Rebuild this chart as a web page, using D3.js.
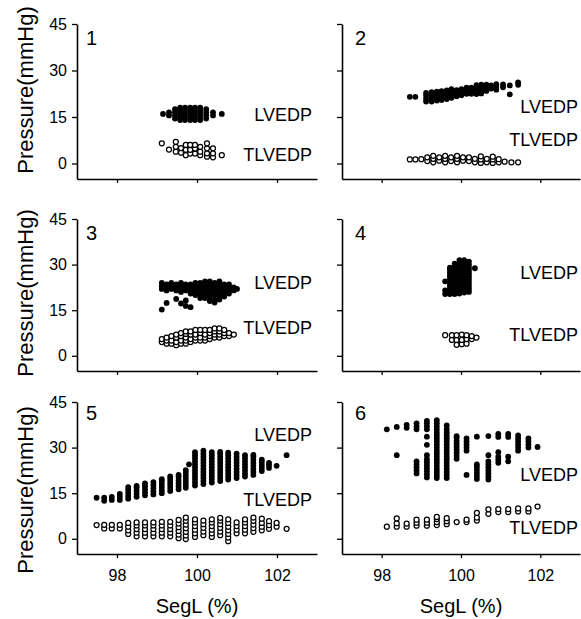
<!DOCTYPE html>
<html><head><meta charset="utf-8">
<script src="https://cdn.jsdelivr.net/npm/d3@7"></script>
<style>body{margin:0;background:#fff}svg{display:block}</style>
</head><body><svg id="c" width="581" height="619"></svg>
<script>
// ---------- data ----------
const xTicks = [98, 100, 102];
const yTicks = [0, 15, 30, 45];
const panelNames = ["1", "2", "3", "4", "5", "6"];
const seriesNames = ["LVEDP", "TLVEDP"];
const xTitle = "SegL (%)";
const yTitle = "Pressure(mmHg)";

// each entry: [SegL %, [pressures at that SegL]]
const lv1 = [[99.15,[16]],[99.3,[15.5,16.5]],[99.45,[14.5,15.5,16.5,17.5]],[99.58,[14,15,16,17,18]],[99.7,[14,15,16,17,18]],[99.83,[14,15,16,17,18]],[99.95,[14,15,16,17,18]],[100.08,[14,15,16,17,18]],[100.23,[14.5,15.5,16.5,17.5]],[100.4,[15.5,16.5]],[100.62,[16]]];
const tl1 = [[99.12,[6.5]],[99.3,[4.5]],[99.47,[3.8,5.4,7]],[99.6,[3.5,5]],[99.72,[2.7,4.4,6]],[99.83,[3.2,4.4,6]],[99.95,[3.2,4.8,6]],[100.08,[2.7,3.8,5.4]],[100.25,[2.2,3.3,4.9,6.5]],[100.4,[2,3.3,4.9]],[100.62,[2.7]]];

const lv2 = [[98.71,[21.5]],[98.85,[21.5]],[99.12,[20,21,22,22.8]],[99.26,[20,21,22,23]],[99.39,[20.3,21.3,22.3,23.2]],[99.51,[20.5,21.5,22.5,23.3]],[99.64,[20.8,21.8,22.8,23.6]],[99.76,[21.2,22.2,23.2,24]],[99.89,[21.7,22.7,23.7]],[100.01,[22,23,24]],[100.14,[22.5,23.5,24.5]],[100.26,[22.5,23.5,24.5]],[100.39,[22.4,23.4,24.4,25.3]],[100.51,[22.6,23.6,24.6,25.4]],[100.64,[23.4,24.4,25.4]],[100.76,[24.2,25.2]],[100.89,[23.8,24.8,25.6]],[101.06,[24.6,25.5]],[101.23,[22.3,25.2]],[101.44,[25.4,26.2]]];
const tl2 = [[98.71,[1.3]],[98.85,[1.3]],[99.0,[1.4]],[99.15,[0.8,2]],[99.3,[0.4,1.5,2.5]],[99.45,[0.9,2]],[99.6,[0.4,1.5,2.5]],[99.75,[0.8,2]],[99.9,[0.4,1.5,2.5]],[100.05,[0.9,2]],[100.2,[0.8,2]],[100.35,[0.4,1.5]],[100.5,[0.2,1.3,2.3]],[100.65,[0.4,1.5]],[100.8,[0.2,1.3,2.2]],[100.95,[0.4,1.4]],[101.1,[0.6]],[101.27,[0.4]],[101.44,[0.4]]];

const lv3 = [[99.12,[15.2,22,23,24]],[99.24,[17.4,21.5,22.5,23.5]],[99.36,[22,23,24]],[99.48,[18.7,21.5,22.5,23.5]],[99.6,[17.2,21,22,23,24]],[99.72,[16.4,18.2,21.5,22.5,23.5]],[99.84,[16,20.5,21.5,22.5,23.5]],[99.96,[20,21,22,23,24]],[100.08,[19,20,21,22,23,24]],[100.2,[19,20,21,22,23,24.5]],[100.32,[18,19.5,20.5,21.5,22.5,23.5,24.5]],[100.44,[17.5,18.5,20,21,22,23,24]],[100.56,[18.5,19.5,20.5,21.5,22.5,23.5,24.5]],[100.68,[19.5,20.5,21.5,22.5,23.5]],[100.8,[20.5,21.5,22.5,23.5]],[100.92,[21.5,22.5]],[101.0,[22]]];
const tl3 = [[99.12,[4.5,5.5]],[99.24,[4,5,6]],[99.36,[4,5,6.5]],[99.48,[3.5,4.5,6,7]],[99.6,[4,5,6.5,7.5]],[99.72,[4,5,6,7.2,8]],[99.84,[4.5,5.5,7,8]],[99.96,[5,6,7,8.5]],[100.08,[5,6,7.5,8.5]],[100.2,[5,6,7,8.5]],[100.32,[5.5,6.5,7.5,8.5]],[100.44,[6,7,8,9]],[100.56,[6,7,8,9]],[100.68,[6.5,7.5,8.5]],[100.8,[6.5,7.5]],[100.92,[7]]];

const lv4 = [[99.6,[20.3,21.5,24.5]],[99.72,[20.3,21.3,22.3,23.3,24.3,25.3,26.3,27.3,28.3,29]],[99.84,[20.3,21.3,22.3,23.3,24.3,25.3,26.3,27.3,28.3,29.3,30.3]],[99.96,[20.5,21.5,22.5,23.5,24.5,25.5,26.5,27.5,28.5,29.5,30.5,31.5]],[100.08,[20.8,21.8,22.8,23.8,24.8,25.8,26.8,27.8,28.8,29.8,30.8,31.5]],[100.2,[21,22,23,24,25,26,27,28,29,30,31]],[100.35,[28.8]]];
const tl4 = [[99.6,[6.8]],[99.77,[5.2,6.8]],[99.89,[3.6,5.2,6.8]],[100.02,[3.8,5.2,7]],[100.14,[4,5.5,6.8]],[100.27,[5.5,6.5]],[100.39,[6]]];

const lv5 = [[97.49,[13.5]],[97.68,[12.5,13.5]],[97.87,[12.8,13.8]],[98.07,[12.8,13.8,14.8]],[98.28,[13.2,14.2,15.2,16.2,17]],[98.49,[13.8,14.8,15.8,16.8,17.4]],[98.7,[14.3,15.3,16.3,17.3,18.2]],[98.91,[14.6,15.6,16.6,17.6,18.6]],[99.12,[15,16,17,18,19,19.6]],[99.33,[15.7,16.7,17.7,18.7,19.7,20.5]],[99.54,[16.3,17.3,18.3,19.3,20.3,21]],[99.72,[16.8,17.8,18.8,19.8,20.8,21.8,22.6]],[99.8,[24.5]],[99.95,[17.5,18.5,19.5,20.5,21.5,22.5,23.5,24.5,25.5,26.5,27.5,28.5]],[100.16,[18,19,20,21,22,23,24,25,26,27,28,29]],[100.37,[18.5,19.5,20.5,21.5,22.5,23.5,24.5,25.5,26.5,27.5,28.5]],[100.58,[19,20,21,22,23,24,25,26,27,28,28.6]],[100.78,[19.5,20.5,21.5,22.5,23.5,24.5,25.5,26.5,27.5,28.3]],[100.99,[20,21,22,23,24,25,26,27,28]],[101.2,[20.5,21.5,22.5,23.5,24.5,25.5,26.5,27.5]],[101.41,[21,22,23,24,25,26,27,27.6]],[101.62,[22.3,23.3,24.3,25.3,26]],[101.8,[23.3,24.3,25]],[101.99,[24]],[102.24,[27.5]]];
const tl5 = [[97.49,[4.5]],[97.68,[3.4,4.6]],[97.87,[3.4,4.6]],[98.07,[3.4,4.6]],[98.28,[1.6,2.8,4,5.2]],[98.49,[0.8,2,3.2,4.4,5.4]],[98.7,[0.8,2,3.2,4.4,5.4]],[98.91,[0.8,2,3.2,4.4,5.4]],[99.12,[0.8,2,3.2,4.4,5.6]],[99.33,[0.8,2,3.2,4.4,5.6]],[99.54,[0.2,1.4,2.6,3.8,5,6.2]],[99.72,[-0.1,1.1,2.3,3.5,4.7,5.9,7]],[99.95,[0.6,1.8,3,4.2,5.4,6.4]],[100.16,[1.2,2.4,3.6,4.8,6]],[100.37,[0.6,1.8,3,4.2,5.4,6.4]],[100.58,[1.2,2.4,3.6,4.8,6,6.9]],[100.78,[-0.8,0.4,1.6,2.8,4,5.2,6.4]],[100.99,[1.8,3,4.2,5.4]],[101.2,[1.8,3,4.2,5.4,6.4]],[101.41,[2.3,3.5,4.7,5.9,7]],[101.62,[2.8,4,5.2,6.6]],[101.8,[3.3,4.5,5.8]],[101.99,[4,5.2]],[102.24,[3.3]]];

const lv6 = [[98.13,[36]],[98.38,[27.5,36.8]],[98.63,[36.5,37.5]],[98.88,[21.5,22.5,23.5,24.5,25.5,36,37,38]],[99.14,[20.2,21.2,22.2,23.2,24.2,25.2,26.2,27.5,30.9,33.6,36,37,38,38.8]],[99.39,[20,21,22,23,24,25,26,27,28,29,30,31,32,33,34,35,36,37,38,39]],[99.64,[20,21,22,23,24,25,26,27,28,29,30,31,32,33,34,35,36,37.3]],[99.89,[26.3,27.3,28.3,29.3,30.3,31.3,32.3,33.3,33.8]],[100.14,[21,29,30,31,32,33]],[100.4,[19.7,20.7,21.7,22.7,23.7,24.5,33.6]],[100.69,[19.5,20.5,21.5,22.5,23.5,24.5,25.5,27.5,33.8]],[100.94,[25,26,27,28.5,33.5,34.5]],[101.19,[25.5,27,33.5,34.5]],[101.44,[29,30,31,32,33,34]],[101.7,[30,31,32,33]],[101.93,[30.2]]];
const tl6 = [[98.13,[4]],[98.38,[4,5.1,6.7]],[98.63,[4,5]],[98.88,[4.3,5.3,6.3]],[99.14,[4.3,5.3,6.3]],[99.39,[4.5,5.5,6.5,7.2]],[99.64,[4.8,5.8,6.8]],[99.89,[5.5]],[100.14,[5.5,6.3]],[100.4,[6,7,8.5]],[100.69,[8.2,9.7]],[100.94,[8.8,9.8]],[101.19,[8.8,9.8]],[101.44,[9,10]],[101.7,[9,10]],[101.93,[10.6]]];

const lvSets = [lv1, lv2, lv3, lv4, lv5, lv6];
const tlSets = [tl1, tl2, tl3, tl4, tl5, tl6];

// ---------- layout ----------
const FONT = "'Liberation Sans', Arial, Helvetica, sans-serif";
const colX0 = [77, 342], colX1 = [317, 580];
const rowY0 = [24, 219, 402], rowY1 = [179, 371, 554];
const lvLabelY = [115, 107, 283, 273, 435, 475];
const tlLabelY = [155, 140, 328, 335, 500, 528];
const labelRight = [312, 578];
const yTitleCenter = [90, 293, 490];

const svg = d3.select("#c");
svg.append("rect").attr("width", 581).attr("height", 619).attr("fill", "#fff");

function flatten(cols) {
  const pts = [];
  cols.forEach(([xv, ys]) => ys.forEach(yv => pts.push([xv, yv])));
  return pts;
}

for (let i = 0; i < 6; i++) {
  const col = i % 2, row = Math.floor(i / 2);
  const x = d3.scaleLinear().domain([97, 103]).range([colX0[col], colX1[col]]);
  const y = d3.scaleLinear().domain([-5, 45]).range([rowY1[row], rowY0[row]]);
  const g = svg.append("g");

  // y axis
  const ya = d3.axisLeft(y).tickValues(yTicks).tickSize(5).tickSizeOuter(0).tickPadding(5)
    .tickFormat(col === 0 ? d3.format("d") : () => "");
  const yg = g.append("g").attr("transform", `translate(${colX0[col]},0)`).call(ya);
  // x axis
  const xa = d3.axisBottom(x).tickValues(xTicks).tickSize(4).tickSizeOuter(0).tickPadding(12)
    .tickFormat(row === 2 ? d3.format("d") : () => "");
  const xg = g.append("g").attr("transform", `translate(0,${rowY1[row]})`).call(xa);
  [yg, xg].forEach(a => {
    a.select(".domain").attr("stroke", "#000").attr("stroke-width", 1.6);
    a.selectAll(".tick line").attr("stroke", "#000").attr("stroke-width", 1.3);
    a.selectAll("text").attr("font-family", FONT).attr("font-size", 16).attr("fill", "#000");
  });

  // points
  g.append("g").selectAll("circle").data(flatten(lvSets[i])).join("circle")
    .attr("cx", d => x(d[0])).attr("cy", d => y(d[1])).attr("r", 2.9).attr("fill", "#000");
  g.append("g").selectAll("circle").data(flatten(tlSets[i])).join("circle")
    .attr("cx", d => x(d[0])).attr("cy", d => y(d[1])).attr("r", 2.5)
    .attr("fill", "#fff").attr("stroke", "#000").attr("stroke-width", 1.25);

  // panel number
  g.append("text").attr("x", colX0[col] + (col === 0 ? 9 : 13)).attr("y", rowY0[row] + (row === 2 ? 18 : 21))
    .attr("font-family", FONT).attr("font-size", 20).text(panelNames[i]);
  // series labels
  g.append("text").attr("x", labelRight[col]).attr("y", lvLabelY[i]).attr("dy", "0.36em")
    .attr("text-anchor", "end").attr("font-family", FONT).attr("font-size", 18).text(seriesNames[0]);
  g.append("text").attr("x", labelRight[col]).attr("y", tlLabelY[i]).attr("dy", "0.36em")
    .attr("text-anchor", "end").attr("font-family", FONT).attr("font-size", 18).text(seriesNames[1]);

  if (col === 0) {
    g.append("text").attr("transform", `translate(33,${yTitleCenter[row]}) rotate(-90)`)
      .attr("text-anchor", "middle").attr("font-family", FONT).attr("font-size", 22).text(yTitle);
  }
  if (row === 2) {
    g.append("text").attr("x", x(100)).attr("y", 613).attr("text-anchor", "middle")
      .attr("font-family", FONT).attr("font-size", 20).text(xTitle);
  }
}
</script></body></html>
